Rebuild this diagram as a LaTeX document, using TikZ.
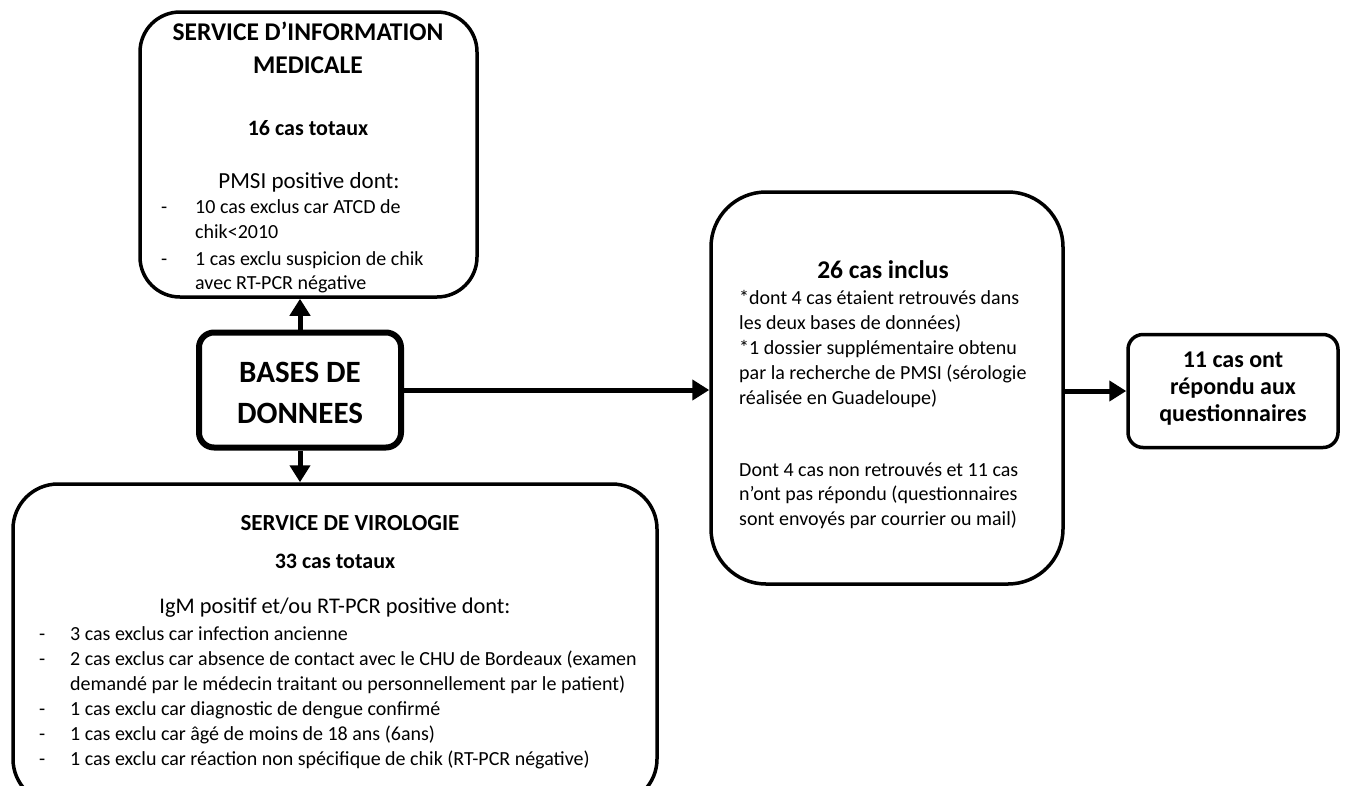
\documentclass[tikz,border=0pt]{standalone}
\usepackage{fontspec}
\setmainfont{Carlito}
\usetikzlibrary{arrows.meta}
\tikzset{
  bigbox/.style={draw, line width=3.5pt, rounded corners=#1, inner sep=0pt},
  bigbox/.default=40pt,
  arr/.style={line width=5pt, -{Triangle[length=17pt,width=20pt]}},
  t/.style={inner sep=0pt, anchor=base west, font=\fontsize{20}{24}\selectfont},
  tc/.style={inner sep=0pt, anchor=base, font=\fontsize{20}{24}\selectfont},
  hb/.style={inner sep=0pt, anchor=base, font=\fontsize{22}{28}\selectfont\bfseries},
}
\begin{document}
\begin{tikzpicture}[x=1pt,y=-1pt]
\useasboundingbox (0,0) rectangle (1346,785);
\clip (0,0) rectangle (1346,785);
% boxes
\node[bigbox=40pt, minimum width=337pt, minimum height=285pt] (sim) at (308.5,154.5) {};
\node[draw, line width=6pt, rounded corners=15pt, minimum width=202pt, minimum height=115pt, inner sep=0pt] (bd) at (300,390) {};
\node[bigbox=45pt, minimum width=644pt, minimum height=320pt] (vir) at (335,644) {};
\node[bigbox=55pt, minimum width=352pt, minimum height=392pt] (inc) at (887,388) {};
\node[draw, line width=3.5pt, rounded corners=15pt, minimum width=210pt, minimum height=113pt, inner sep=0pt] (rep) at (1233,391) {};
% arrows
\draw[arr] (bd.north) -- (bd.north |- sim.south);
\draw[arr] (bd.south) -- (bd.south |- vir.north);
\draw[arr] (bd.east) -- (inc.west |- bd.east);
\draw[arr] (inc.east |- rep.west) -- (rep.west);
% SIM text
\node[hb, font=\fontsize{25.5}{30}\selectfont\bfseries] (s1) at (308,40) {SERVICE D’INFORMATION};
\node[hb, font=\fontsize{25.5}{30}\selectfont\bfseries] (s2) at (308,73) {MEDICALE};
\node[hb] (s3) at (308,135) {16 cas totaux};
\node[tc, font=\fontsize{23}{28}\selectfont] (s4) at (309,188) {PMSI positive dont:};
\node[t] (d1) at (161,213) {-};
\node[t] (s5) at (195,213) {10 cas exclus car ATCD de};
\node[t] (s6) at (195,238) {chik<2010};
\node[t] (d2) at (161,265) {-};
\node[t] (s7) at (195,265) {1 cas exclu suspicion de chik};
\node[t] (s8) at (195,289) {avec RT-PCR négative};
% bases text
\node[inner sep=0pt, anchor=base, font=\fontsize{31}{38}\selectfont\bfseries] (b1) at (300,382) {BASES DE};
\node[inner sep=0pt, anchor=base, font=\fontsize{31}{38}\selectfont\bfseries] (b2) at (300,423) {DONNEES};
% virologie text
\node[hb, font=\fontsize{23}{28}\selectfont\bfseries] (v1) at (350,530) {SERVICE DE VIROLOGIE};
\node[hb] (v2) at (335,568) {33 cas totaux};
\node[tc, font=\fontsize{22.4}{28}\selectfont] (v3) at (335,613) {IgM positif et/ou RT-PCR positive dont:};
\foreach \y/\txt [count=\i] in {640/3 cas exclus car infection ancienne,665/2 cas exclus car absence de contact avec le CHU de Bordeaux (examen,715/1 cas exclu car diagnostic de dengue confirmé,740/1 cas exclu car âgé de moins de 18 ans (6ans),765/1 cas exclu car réaction non spécifique de chik (RT-PCR négative)}{
  \node[t] (vd\i) at (39,\y) {-};
  \node[t] (vt\i) at (70,\y) {\txt};
}
\node[t] (vt6) at (70,690) {demandé par le médecin traitant ou personnellement par le patient)};
% inclus text
\node[hb, font=\fontsize{25.5}{30}\selectfont\bfseries] (i0) at (883,278) {26 cas inclus};
\node[t] (i1) at (739,304) {*dont 4 cas étaient retrouvés dans};
\node[t] (i2) at (739,329) {les deux bases de données)};
\node[t] (i3) at (739,354) {*1 dossier supplémentaire obtenu};
\node[t] (i4) at (739,379) {par la recherche de PMSI (sérologie};
\node[t] (i5) at (739,404) {réalisée en Guadeloupe)};
\node[t] (i6) at (739,476) {Dont 4 cas non retrouvés et 11 cas};
\node[t] (i7) at (739,500) {n’ont pas répondu (questionnaires};
\node[t] (i8) at (739,525) {sont envoyés par courrier ou mail)};
% reponse text
\node[hb, font=\fontsize{24}{28}\selectfont\bfseries] (r1) at (1233,367) {11 cas ont};
\node[hb, font=\fontsize{24}{28}\selectfont\bfseries] (r2) at (1233,394) {répondu aux};
\node[hb, font=\fontsize{24}{28}\selectfont\bfseries] (r3) at (1233,421) {questionnaires};
\end{tikzpicture}
\end{document}
